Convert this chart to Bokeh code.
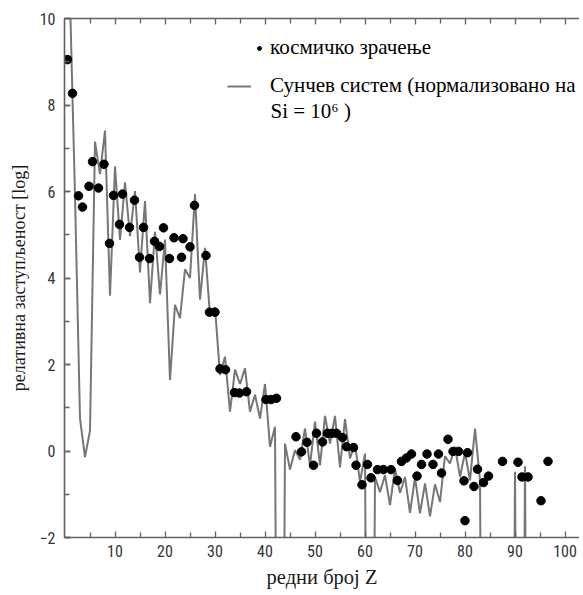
from bokeh.plotting import figure
from bokeh.models import (Range1d, LinearAxis, FixedTicker, SingleIntervalTicker,
                          Legend, LegendItem, Label)
from bokeh.embed import file_html
from bokeh.resources import INLINE

# Solar-system abundances, log10 relative to Si = 1e6, by atomic number Z
# (-20 marks elements without a value; the line runs off the bottom there)
solar_z = list(range(1, 94))
solar_log = [
    10.45, 5.9, 0.75, -0.14, 0.47, 7.15, 6.40, 7.41, 3.59, 6.58,      # 1-10
    4.88, 6.21, 4.97, 6.01, 4.13, 5.78, 3.42, 5.07, 3.62, 4.89,       # 11-20
    1.64, 3.38, 3.07, 4.20, 4.00, 5.94, 3.50, 4.70, 3.13, 3.32,       # 21-30
    1.76, 2.18, 0.91, 1.88, 1.55, 1.91, 0.91, 1.30, 0.75, 1.55,       # 31-40
    0.10, 0.56, -20, 0.17, -0.43, 0.02, -0.20, 0.52, -0.33, 0.68,     # 41-50
    -0.33, 0.81, 0.17, 0.81, -0.38, 0.74, -0.17, 0.17, -0.72, -0.06,  # 51-60
    -20, -0.60, -0.95, -0.56, -1.25, -0.41, -0.97, -0.60, -1.43, -0.61,  # 61-70
    -1.44, -0.75, -1.51, -0.77, -1.18, -0.12, -0.29, 0.10, -0.60, -0.04,  # 71-80
    -0.68, 0.52, -0.68, -20, -20, -20, -20, -20, -20, -0.48,          # 81-90
    -20, -0.35, -20,                                                  # 91-93
]

# Cosmic-ray abundances (positions and values)
cr_z = [0.5, 1.5, 2.7, 3.5, 4.8, 5.5, 6.7, 7.8, 8.9, 9.7,
        10.9, 11.5, 12.9, 13.9, 14.9, 15.7, 16.9, 17.9, 18.9, 19.7,
        20.9, 21.8, 23.3, 23.6, 25.0, 25.9, 28.2, 28.9, 30.0, 31.0,
        32.1, 33.9, 34.9, 36.3, 40.2, 41.2, 42.3,
        46.2, 47.3, 48.4, 49.7, 50.3, 51.5, 52.5, 53.4, 54.3, 55.5,
        56.3, 57.7, 58.2, 59.4, 60.5, 61.2, 62.5, 63.7, 65.2,
        66.5, 67.3, 68.3, 69.3, 70.4, 71.3, 72.4, 73.6, 74.7, 75.3,
        76.6, 77.6, 78.7, 79.8, 80.0, 80.5, 81.8, 82.5, 83.7, 84.7,
        87.5, 90.6, 91.4, 92.6, 95.2, 96.6]
cr_log = [9.05, 8.27, 5.90, 5.64, 6.12, 6.69, 6.08, 6.63, 4.80, 5.91,
          5.24, 5.94, 5.17, 5.80, 4.48, 5.17, 4.45, 4.85, 4.73, 5.16,
          4.45, 4.93, 4.48, 4.91, 4.72, 5.68, 4.52, 3.21, 3.21, 1.90,
          1.88, 1.35, 1.34, 1.37, 1.19, 1.19, 1.22,
          0.33, -0.02, 0.20, -0.33, 0.41, 0.21, 0.41, 0.41, 0.41, 0.31,
          0.10, 0.08, -0.33, -0.78, -0.31, -0.62, -0.43, -0.43, -0.43,
          -0.68, -0.24, -0.16, -0.07, -0.58, -0.31, -0.07, -0.31, -0.07, -0.51,
          0.27, -0.01, -0.01, -0.69, -1.61, -0.04, -0.82, -0.42, -0.73, -0.58,
          -0.24, -0.26, -0.60, -0.60, -1.15, -0.24]

x_major_ticks = [10, 20, 30, 40, 50, 60, 70, 80, 90, 100]
x_minor_ticks = [5, 15, 25, 35, 45, 55, 65, 75, 85, 95]
y_tick_interval = 2

TICK_FONT = "Liberation Sans Narrow, Roboto Condensed, Arial Narrow, sans-serif"
SERIF = "Liberation Serif"
AXIS_COLOR = "#606060"

p = figure(width=579, height=590, output_backend="svg", toolbar_location=None,
           x_range=Range1d(-0.1, 102.9), y_range=Range1d(-2, 10),
           min_border_left=64, min_border_right=0, min_border_top=18,
           min_border_bottom=53, x_axis_location=None, y_axis_location=None)
p.outline_line_color = None
p.grid.visible = False
p.background_fill_color = "white"
p.border_fill_color = "white"


def style_axis(ax):
    ax.axis_line_color = AXIS_COLOR
    ax.axis_line_width = 1.6
    ax.major_tick_line_color = AXIS_COLOR
    ax.minor_tick_line_color = AXIS_COLOR
    ax.major_tick_line_width = 1.3
    ax.minor_tick_line_width = 1.3
    ax.major_tick_in = 6
    ax.major_tick_out = 0
    ax.minor_tick_in = 5
    ax.minor_tick_out = 0
    ax.major_label_text_font = TICK_FONT
    ax.major_label_text_font_size = "16px"
    ax.major_label_text_color = "#333333"
    ax.axis_label_text_font = SERIF
    ax.axis_label_text_font_style = "normal"
    ax.axis_label_text_color = "#1a1a1a"
    ax.axis_label_text_font_size = "18px"


xaxis = LinearAxis(ticker=FixedTicker(ticks=x_major_ticks, minor_ticks=x_minor_ticks),
                   axis_label="редни број Z")
style_axis(xaxis)
xaxis.major_label_standoff = 7
xaxis.axis_label_standoff = 6
xaxis.axis_label_text_font_size = "20.5px"
p.add_layout(xaxis, "below")

topaxis = LinearAxis(ticker=FixedTicker(ticks=x_major_ticks, minor_ticks=x_minor_ticks))
style_axis(topaxis)
topaxis.major_label_text_font_size = "1px"
topaxis.major_label_text_color = None
topaxis.major_label_standoff = 0
p.add_layout(topaxis, "above")

yaxis = LinearAxis(ticker=SingleIntervalTicker(interval=y_tick_interval, num_minor_ticks=2),
                   axis_label="релативна заступљеност [log]")
style_axis(yaxis)
yaxis.major_label_standoff = 9
yaxis.axis_label_standoff = 8
yaxis.major_label_overrides = {-2: "\u22122"}
p.add_layout(yaxis, "left")

r_line = p.line(solar_z, solar_log, line_color="#767676", line_width=2)
r_dots = p.scatter(cr_z, cr_log, size=8.5, fill_color="black", line_color="black")

leg_dots = Legend(items=[LegendItem(label="космичко зрачење", renderers=[r_dots])],
                  location=(190, 477), glyph_width=10, glyph_height=24,
                  label_height=24, label_standoff=6, padding=0, margin=0,
                  border_line_color=None, background_fill_alpha=0,
                  label_text_font=SERIF, label_text_font_size="21px",
                  label_text_color="black")
leg_line = Legend(items=[LegendItem(label="Сунчев систем (нормализовано на", renderers=[r_line])],
                  location=(163, 439), glyph_width=24, glyph_height=24,
                  label_height=24, label_standoff=19, padding=0, margin=0,
                  border_line_color=None, background_fill_alpha=0,
                  label_text_font=SERIF, label_text_font_size="21px",
                  label_text_color="black")
p.add_layout(leg_dots, "center")
p.add_layout(leg_line, "center")

p.add_layout(Label(x=206, y=427, x_units="screen", y_units="screen",
                   text="Si = 10\u2076 )", text_font=SERIF, text_font_size="21px",
                   text_baseline="middle", text_color="black"))

open("out.html", "w").write(file_html(p, INLINE))
